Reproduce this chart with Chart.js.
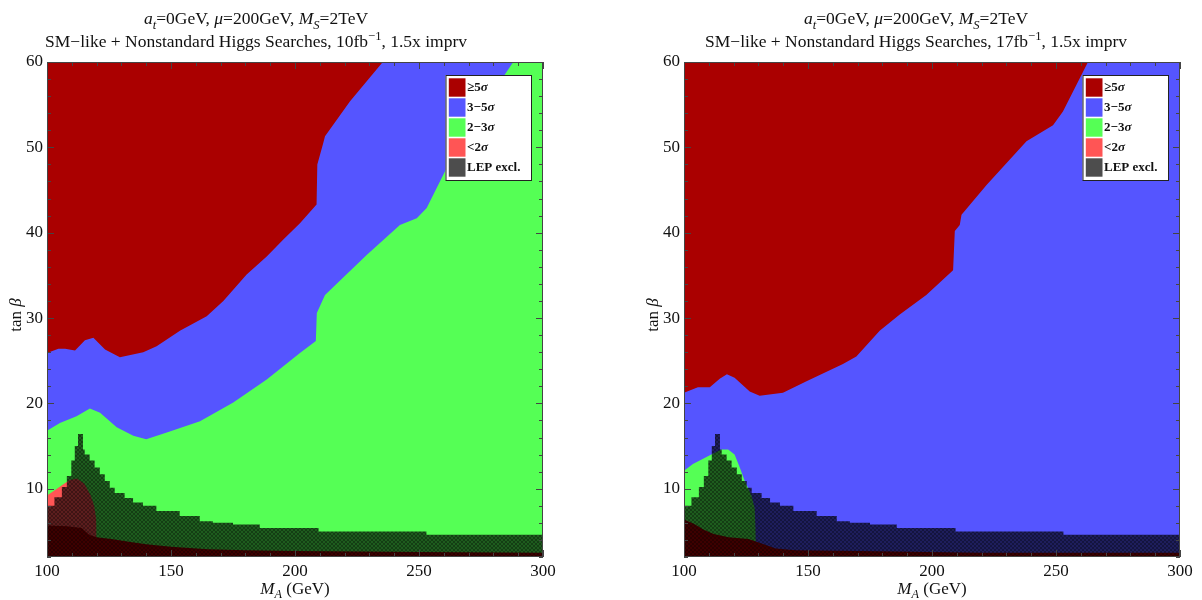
<!DOCTYPE html>
<html>
<head>
<meta charset="utf-8">
<script src="https://cdn.jsdelivr.net/npm/chart.js@4.4.1/dist/chart.umd.min.js"></script>
<style>
html, body { margin: 0; padding: 0; background: #fff; }
#wrap { position: relative; width: 1202px; height: 600px; overflow: hidden; }
canvas { position: absolute; top: 0; }
</style>
</head>
<body>
<div id="wrap">
  <canvas id="c10" width="601" height="600" style="left:0"></canvas>
  <canvas id="c17" width="601" height="600" style="left:601px"></canvas>
</div>
<script>
// tick labels
const xTicks = [100, 150, 200, 250, 300];
const yTicks = [10, 20, 30, 40, 50, 60];
const legendLabels = ['≥5σ', '3−5σ', '2−3σ', '<2σ', 'LEP excl.'];
const legendColors = ['#aa0000', '#5555ff', '#55ff55', '#ff5555', '#4d4d4d'];

// LEP exclusion (same in both panels), step starts
const lepMA = [100, 103, 106, 108, 109.8, 111.2, 112.5, 114.5, 115.2, 117.2, 119.2, 121.3, 123.3, 125.3, 127.3, 131.3, 134.7, 138.7, 144.1, 153.5, 161.6, 166.9, 175, 185.8, 209.5, 253, 300];
const lepTB = [8.0, 9.0, 10.2, 11.5, 13.3, 15.0, 16.4, 14.6, 14.0, 13.3, 12.5, 11.7, 10.9, 10.1, 9.5, 8.9, 8.4, 8.0, 7.4, 6.8, 6.2, 6.0, 5.8, 5.4, 5.0, 4.6, 4.6];

// 10 fb^-1 panel
const red10MA = [100, 104.6, 107.3, 111.3, 115.3, 118.7, 123.4, 129.4, 138.8, 144.2, 153.6, 164.4, 171.1, 180.5, 188.6, 195.3, 202, 208.7, 209, 211.4, 212.1, 222.2, 235.4];
const red10TB = [25.9, 26.4, 26.4, 26.2, 27.4, 27.7, 26.3, 25.4, 26.0, 26.7, 28.5, 30.2, 32.0, 35.1, 37.2, 39.2, 41.1, 43.3, 48.0, 50.5, 51.3, 55.4, 60];
const green10MA = [100, 105.2, 111.9, 117.3, 121.4, 128.1, 134.8, 140, 148.3, 161.7, 175.1, 188.6, 202, 208.4, 208.8, 212.1, 228.9, 242.3, 249.1, 253.1, 261.2, 274.6, 288, 300];
const green10TB = [16.8, 17.7, 18.5, 19.4, 18.9, 17.2, 16.2, 15.8, 16.6, 17.9, 20.1, 22.8, 25.9, 27.3, 30.6, 32.7, 37.4, 40.9, 41.7, 42.9, 47.6, 54.2, 60, 60];
const low10MA = [100, 103, 106, 109, 112, 115, 117.5, 119, 119.8, 120, 120.1];
const low10TB = [9.2, 9.8, 10.4, 11.0, 11.2, 10.6, 9.3, 8.0, 6.5, 5.0, 2];
const strip10MA = [100, 108, 114, 117, 120, 126, 133, 140, 150, 165, 180, 200, 250, 300];
const strip10TB = [5.7, 5.6, 5.4, 4.6, 4.3, 4.1, 3.8, 3.5, 3.2, 2.9, 2.8, 2.7, 2.6, 2.5];

// 17 fb^-1 panel
const red17MA = [100, 105.6, 110.4, 114.4, 117.3, 120.4, 126.5, 130.5, 139.9, 149.4, 164.1, 169.5, 178.9, 187, 197.7, 208.5, 209.2, 211.2, 211.9, 222, 238.1, 248.8, 252.8, 262.9];
const red17TB = [21.25, 21.9, 21.9, 22.9, 23.4, 23.0, 21.4, 20.9, 21.25, 22.6, 24.6, 25.5, 28.5, 30.4, 32.7, 35.6, 40.2, 40.9, 42.1, 45.6, 50.7, 52.6, 54.2, 60];
const green17MA = [100, 103.6, 107.7, 111, 115.1, 117.8, 120.4, 122.5, 124.5, 127.2, 128.5, 128.8, 129];
const green17TB = [12.1, 12.9, 13.5, 14.0, 14.6, 14.6, 14.0, 12.5, 10.9, 9.2, 7.7, 5.5, 2];
const strip17MA = [100, 104, 108, 112, 118, 126, 131, 137, 145, 170, 220, 300];
const strip17TB = [6.4, 5.9, 5.2, 4.7, 4.3, 4.1, 3.6, 3.0, 2.8, 2.7, 2.5, 2.5];

const fullMA = [100, 300];
const fullTB = [60, 60];

const SERIF = '"Liberation Serif", "Times New Roman", serif';

function pts(xs, ys) {
  return xs.map((x, i) => ({x: x, y: ys[i]}));
}

// dark triangle mesh for the LEP region
function lepPattern() {
  const c = document.createElement('canvas');
  c.width = 4; c.height = 4;
  const g = c.getContext('2d');
  g.fillStyle = 'rgba(0,0,0,0.64)';
  g.fillRect(0, 0, 4, 4);
  g.strokeStyle = 'rgba(0,0,0,0.55)';
  g.lineWidth = 0.6;
  g.beginPath();
  g.moveTo(0, 4); g.lineTo(4, 0);
  g.moveTo(0, 0); g.lineTo(4, 4);
  g.stroke();
  return g.createPattern(c, 'repeat');
}

function region(label, data, color, fill, stepped) {
  return {
    label: label, data: data, backgroundColor: color, fill: fill,
    borderWidth: 0, borderColor: 'rgba(0,0,0,0)', pointRadius: 0,
    tension: 0, stepped: stepped || false
  };
}

// draws text made of pieces (italic, sub, sup)
function rich(ctx, segs, x, y, size, align, bold) {
  const fontOf = s => (s.i ? 'italic ' : '') + (bold ? 'bold ' : '') +
    ((s.sub || s.sup) ? size * 0.72 : size) + 'px ' + SERIF;
  const ws = segs.map(s => { ctx.font = fontOf(s); return ctx.measureText(s.t).width; });
  const total = ws.reduce((a, b) => a + b, 0);
  let cx = align === 'center' ? x - total / 2 : x;
  ctx.textAlign = 'left';
  segs.forEach((s, i) => {
    ctx.font = fontOf(s);
    const dy = s.sub ? size * 0.26 : (s.sup ? -size * 0.4 : 0);
    ctx.fillText(s.t, cx, y + dy);
    cx += ws[i];
  });
}

const decor = {
  id: 'decor',
  afterDraw(chart, args, o) {
    const ctx = chart.ctx, a = chart.chartArea;
    const sx = chart.scales.x, sy = chart.scales.y;
    ctx.save();
    // frame + inward ticks
    ctx.strokeStyle = '#444';
    ctx.lineWidth = 1;
    ctx.strokeRect(a.left + 0.5, a.top + 0.5, a.right - a.left - 1, a.bottom - a.top - 1);
    ctx.beginPath();
    for (let v = 100; v <= 300; v += 10) {
      const px = Math.round(sx.getPixelForValue(v)) + 0.5;
      const L = v % 50 === 0 ? 7 : 4;
      ctx.moveTo(px, a.bottom); ctx.lineTo(px, a.bottom - L);
      ctx.moveTo(px, a.top); ctx.lineTo(px, a.top + L);
    }
    for (let v = 2; v <= 60; v += 2) {
      const py = Math.round(sy.getPixelForValue(v)) + 0.5;
      const L = v % 10 === 0 ? 7 : 4;
      ctx.moveTo(a.left, py); ctx.lineTo(a.left + L, py);
      ctx.moveTo(a.right, py); ctx.lineTo(a.right - L, py);
    }
    ctx.stroke();

    // titles
    ctx.fillStyle = '#111';
    ctx.textBaseline = 'alphabetic';
    rich(ctx, [{t: 'a', i: 1}, {t: 't', i: 1, sub: 1}, {t: '=0GeV, '}, {t: 'μ', i: 1},
      {t: '=200GeV, '}, {t: 'M', i: 1}, {t: 'S', i: 1, sub: 1}, {t: '=2TeV'}],
      o.titleX, 24, 17.5, 'center');
    rich(ctx, [{t: 'SM−like + Nonstandard Higgs Searches, ' + o.lumi + 'fb'}, {t: '−1', sup: 1},
      {t: ', 1.5x imprv'}], o.titleX, 47, 17.5, 'center');

    // axis titles
    rich(ctx, [{t: 'M', i: 1}, {t: 'A', i: 1, sub: 1}, {t: ' (GeV)'}],
      (a.left + a.right) / 2, 594, 17, 'center');
    ctx.save();
    ctx.translate(a.left - 26, 315);
    ctx.rotate(-Math.PI / 2);
    rich(ctx, [{t: 'tan '}, {t: 'β', i: 1}], 0, 0, 17, 'center');
    ctx.restore();

    // legend
    const bw = 85.5, bh = 105;
    const bx = a.right - 12 - bw, by = a.top + 13;
    ctx.fillStyle = '#fff';
    ctx.fillRect(bx, by, bw, bh);
    ctx.strokeStyle = '#222';
    ctx.strokeRect(bx + 0.5, by + 0.5, bw, bh);
    ctx.textBaseline = 'middle';
    legendLabels.forEach((lab, i) => {
      const yy = by + 3.3 + i * 20;
      ctx.fillStyle = legendColors[i];
      ctx.fillRect(bx + 3.3, yy, 16.7, 18.4);
      ctx.fillStyle = '#111';
      const parts = lab.split('σ');
      const segs = [{t: parts[0]}];
      if (parts.length > 1) segs.push({t: 'σ', i: 1});
      rich(ctx, segs, bx + 21.5, yy + 9.8, 13, 'left', true);
    });
    ctx.restore();
  }
};

function makeChart(id, sets, padLeft, padRight, titleX, lumi) {
  const tickFont = {family: SERIF, size: 17};
  return new Chart(document.getElementById(id), {
    type: 'line',
    data: {datasets: sets},
    options: {
      responsive: false,
      animation: false,
      events: [],
      layout: {padding: {top: 62, right: padRight, bottom: 0, left: 0}},
      plugins: {
        legend: {display: false},
        tooltip: {enabled: false},
        decor: {titleX: titleX, lumi: lumi}
      },
      scales: {
        x: {
          type: 'linear', min: 100, max: 300,
          grid: {display: false, drawTicks: false}, border: {display: false},
          ticks: {font: tickFont, color: '#111', padding: 4, maxRotation: 0},
          afterBuildTicks: s => { s.ticks = xTicks.map(v => ({value: v})); },
          afterFit: s => { s.height = 43; }
        },
        y: {
          type: 'linear', min: 2, max: 60,
          grid: {display: false, drawTicks: false}, border: {display: false},
          ticks: {font: tickFont, color: '#111', padding: 4},
          afterBuildTicks: s => { s.ticks = yTicks.map(v => ({value: v})); },
          afterFit: s => { s.width = padLeft; }
        }
      }
    },
    plugins: [decor]
  });
}

const hatch = lepPattern();

// first dataset is drawn on top
makeChart('c10', [
  region('LEP excl.', pts(lepMA, lepTB), hatch, 'start', true),
  region('≥5σ', pts(strip10MA, strip10TB), '#aa0000', 'start'),
  region('<2σ', pts(low10MA, low10TB), '#ff5555', 'start'),
  region('≥5σ', pts(red10MA, red10TB), '#aa0000', 'end'),
  region('2−3σ', pts(green10MA, green10TB), '#55ff55', 'start'),
  region('3−5σ', pts(fullMA, fullTB), '#5555ff', 'start')
], 47, 58, 256, 10);

makeChart('c17', [
  region('LEP excl.', pts(lepMA, lepTB), hatch, 'start', true),
  region('≥5σ', pts(strip17MA, strip17TB), '#aa0000', 'start'),
  region('2−3σ', pts(green17MA, green17TB), '#55ff55', 'start'),
  region('≥5σ', pts(red17MA, red17TB), '#aa0000', 'end'),
  region('3−5σ', pts(fullMA, fullTB), '#5555ff', 'start')
], 83, 22, 315, 17);
</script>
</body>
</html>
